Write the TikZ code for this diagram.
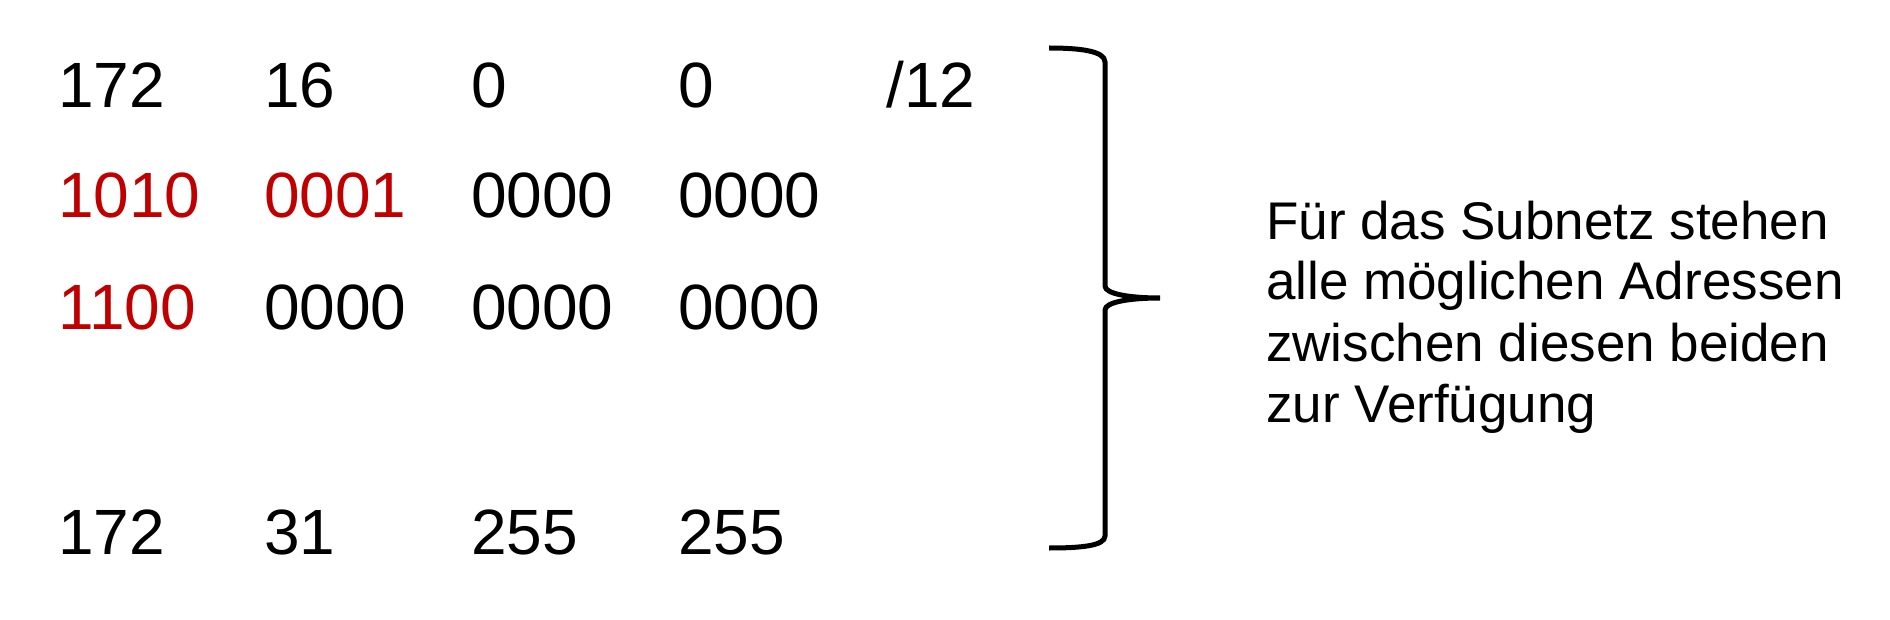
\documentclass[tikz,border=0pt]{standalone}
\usepackage{fontspec}
\setmainfont{Liberation Sans}
\definecolor{netred}{HTML}{C00000}
\begin{document}
\begin{tikzpicture}[x=1pt,y=-1pt,
  num/.style={anchor=base west,inner sep=0pt,font=\fontsize{64}{64}\selectfont},
  red/.style={text=netred},
  txt/.style={anchor=base west,inner sep=0pt,font=\fontsize{53}{61}\selectfont}]
\useasboundingbox (0,0) rectangle (1890,620);
% row 1
\node[num] (a1) at (58,108) {172};
\node[num] (b1) at (264,108) {16};
\node[num] (c1) at (471,108) {0};
\node[num] (d1) at (678,108) {0};
\node[num] (e1) at (886,108) {/12};
% row 2
\node[num,red] (a2) at (58,218) {1010};
\node[num,red] (b2) at (264,218) {0001};
\node[num] (c2) at (471,218) {0000};
\node[num] (d2) at (678,218) {0000};
% row 3
\node[num,red] (a3) at (58,330) {1100};
\node[num] (b3) at (264,330) {0000};
\node[num] (c3) at (471,330) {0000};
\node[num] (d3) at (678,330) {0000};
% row 4
\node[num] (a4) at (58,554) {172};
\node[num] (b4) at (264,554) {31};
\node[num] (c4) at (471,554) {255};
\node[num] (d4) at (678,554) {255};
% brace
\draw[line width=5pt] (1049,48) .. controls (1080,48) and (1105,51) .. (1105,62)
  -- (1105,286) .. controls (1105,294) and (1130,298) .. (1160,298)
  .. controls (1130,298) and (1105,302) .. (1105,310)
  -- (1105,536) .. controls (1105,546) and (1080,548) .. (1049,548);
% text
\node[txt] (t1) at (1266,240) {Für das Subnetz stehen};
\node[txt] (t2) at (1266,300) {alle möglichen Adressen};
\node[txt] (t3) at (1266,361) {zwischen diesen beiden};
\node[txt] (t4) at (1266,422) {zur Verfügung};
\end{tikzpicture}
\end{document}
